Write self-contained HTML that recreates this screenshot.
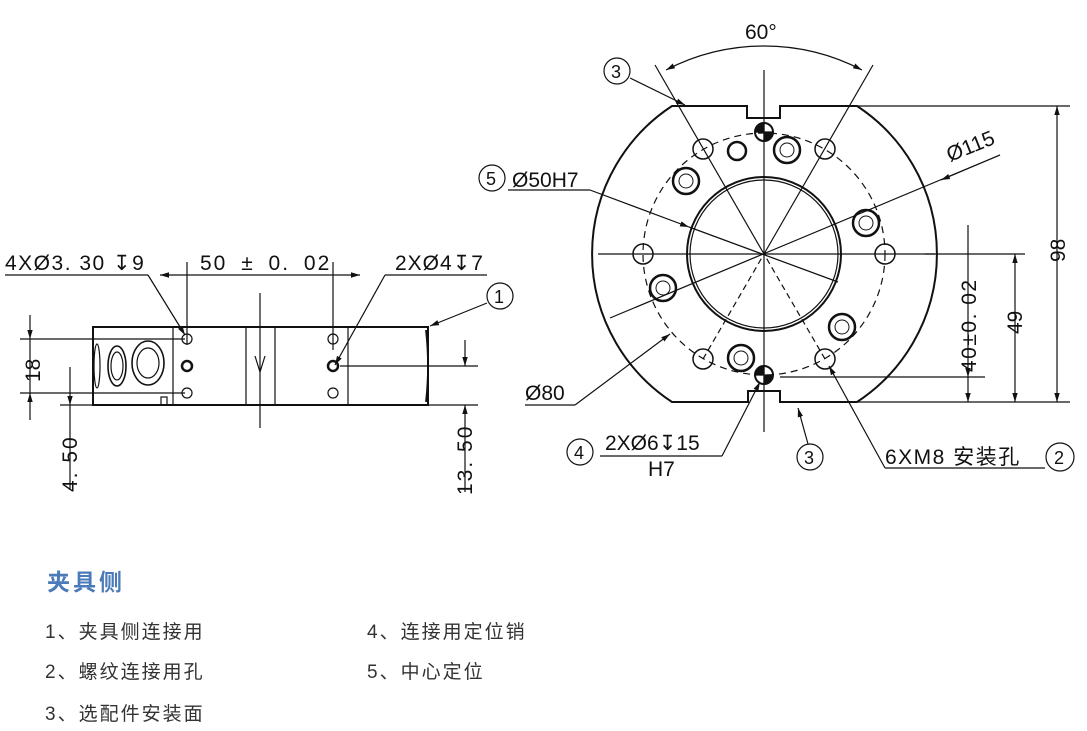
<!DOCTYPE html>
<html><head><meta charset="utf-8"><style>
html,body{margin:0;padding:0;background:#fff;width:1087px;height:731px;overflow:hidden}
svg{position:absolute;left:0;top:0}
text{font-family:"Liberation Sans","Noto Sans CJK SC",sans-serif;fill:#111}
.t{font-family:"Liberation Sans","Noto Sans CJK SC",sans-serif;position:absolute;color:#333;font-size:19px;letter-spacing:2px;white-space:nowrap}
</style></head><body>
<svg width="1087" height="731" viewBox="0 0 1087 731">
<defs>
<marker id="a" viewBox="0 0 10 10" refX="10" refY="5" markerWidth="9" markerHeight="9" orient="auto-start-reverse" markerUnits="userSpaceOnUse"><path d="M0,2 L10,5 L0,8z" fill="#111"/></marker>
</defs>
<g stroke="#111" fill="none" stroke-width="1.2">
<rect x="93" y="327" width="335" height="78" stroke-width="2"/>
<line x1="173" y1="327" x2="173" y2="405"/>
<line x1="246" y1="327" x2="246" y2="405"/>
<line x1="275" y1="327" x2="275" y2="405"/>
<line x1="348" y1="327" x2="348" y2="405"/>
<path d="M426,330 Q430,366 426,402" stroke-width="1.8"/>
<ellipse cx="97" cy="366" rx="3" ry="22"/>
<ellipse cx="117" cy="366" rx="9" ry="20" stroke-width="1.6"/><ellipse cx="117" cy="366" rx="6" ry="14"/>
<ellipse cx="148" cy="363" rx="16" ry="22" stroke-width="1.6"/><ellipse cx="148" cy="363" rx="11" ry="15"/>
<rect x="161" y="397" width="6" height="8"/>
<circle cx="187" cy="339" r="5"/><circle cx="187" cy="366" r="5" stroke-width="2.5"/><circle cx="187" cy="393" r="5"/>
<circle cx="333" cy="339" r="5"/><circle cx="333" cy="366" r="5" stroke-width="2.5"/><circle cx="333" cy="393" r="5"/>
<line x1="260" y1="293" x2="260" y2="428"/>
<path d="M255,356 L260,372 L265,356" />
<line x1="5" y1="275" x2="148" y2="275"/>
<line x1="148" y1="275" x2="185" y2="335" marker-end="url(#a)"/>
<line x1="187" y1="262" x2="187" y2="345"/>
<line x1="333" y1="262" x2="333" y2="350"/>
<line x1="160" y1="275" x2="187" y2="275" marker-start="url(#a)"/>
<line x1="333" y1="275" x2="360" y2="275" marker-end="url(#a)"/>
<line x1="187" y1="275" x2="333" y2="275"/>
<line x1="385" y1="275" x2="487" y2="275"/>
<line x1="385" y1="275" x2="335" y2="365" marker-end="url(#a)"/>
<circle cx="500" cy="296" r="13"/>
<line x1="487" y1="303" x2="430" y2="326" marker-end="url(#a)"/>
<line x1="20" y1="339" x2="185" y2="339"/>
<line x1="20" y1="393" x2="185" y2="393"/>
<line x1="30" y1="315" x2="30" y2="339" marker-end="url(#a)"/>
<line x1="30" y1="339" x2="30" y2="393"/>
<line x1="30" y1="420" x2="30" y2="393" marker-end="url(#a)"/>
<line x1="60" y1="405" x2="478" y2="405"/>
<line x1="70" y1="367" x2="70" y2="405" marker-end="url(#a)"/>
<line x1="70" y1="405" x2="70" y2="490"/>
<line x1="340" y1="366" x2="478" y2="366"/>
<line x1="465" y1="340" x2="465" y2="366" marker-end="url(#a)"/>
<line x1="465" y1="430" x2="465" y2="405" marker-end="url(#a)"/>
<line x1="465" y1="430" x2="465" y2="492"/>

<path d="M672,106 L747,106 L747,118 L780,118 L780,106 L857,106 A177,177 0 0 1 857,402 L780,402 L780,391 L748,391 L748,402 L672,402 A177,177 0 0 1 672,106 Z" stroke-width="2"/>
<circle cx="764" cy="254" r="77" stroke-width="2"/><circle cx="764" cy="254" r="74"/>
<circle cx="764" cy="254" r="121" stroke-dasharray="7,5"/>
<line x1="764" y1="70" x2="764" y2="432"/>
<line x1="598" y1="254" x2="935" y2="254"/>
<line x1="925" y1="254" x2="1025" y2="254"/>
<line x1="655" y1="65" x2="764" y2="254"/>
<line x1="873" y1="65" x2="764" y2="254"/>
<line x1="703" y1="359" x2="764" y2="254" stroke-dasharray="6,4"/>
<line x1="825" y1="359" x2="764" y2="254" stroke-dasharray="6,4"/>
<path d="M666,70 A212,212 0 0 1 862,70" marker-start="url(#a)" marker-end="url(#a)"/>
<g stroke-width="1.5">
<circle cx="643" cy="254" r="10"/><circle cx="885" cy="254" r="10"/>
<circle cx="703" cy="149" r="10"/><circle cx="825" cy="149" r="10"/>
<circle cx="703" cy="359" r="10"/><circle cx="825" cy="359" r="10"/>
</g>
<circle cx="737" cy="151" r="9" stroke-width="2.5"/>
<g stroke-width="2.5">
<circle cx="787" cy="150" r="13"/><circle cx="686" cy="181" r="13"/><circle cx="866" cy="223" r="13"/>
<circle cx="663" cy="288" r="13"/><circle cx="842" cy="327" r="13"/><circle cx="741" cy="358" r="13"/>
</g>
<g stroke-width="1">
<circle cx="787" cy="150" r="7"/><circle cx="686" cy="181" r="7"/><circle cx="866" cy="223" r="7"/>
<circle cx="663" cy="288" r="7"/><circle cx="842" cy="327" r="7"/><circle cx="741" cy="358" r="7"/>
</g>
<circle cx="764" cy="132" r="9" stroke-width="2"/>
<path d="M764,132 L764,123 A9,9 0 0 0 755,132Z M764,132 L764,141 A9,9 0 0 0 773,132Z" fill="#111"/>
<circle cx="764" cy="375" r="9" stroke-width="2"/>
<path d="M764,375 L764,366 A9,9 0 0 0 755,375Z M764,375 L764,384 A9,9 0 0 0 773,375Z" fill="#111"/>
<line x1="610" y1="318" x2="1000" y2="155"/>
<line x1="1000" y1="155" x2="941" y2="180" marker-end="url(#a)"/>
<line x1="508" y1="190" x2="590" y2="190"/>
<line x1="590" y1="190" x2="689" y2="227" marker-end="url(#a)"/>
<line x1="689" y1="227" x2="838" y2="282"/>
<circle cx="492" cy="178" r="13"/>
<line x1="525" y1="405" x2="575" y2="405"/>
<line x1="575" y1="405" x2="670" y2="334" marker-end="url(#a)"/>
<circle cx="617" cy="71" r="13"/>
<line x1="630" y1="78" x2="685" y2="105" marker-end="url(#a)"/>
<line x1="857" y1="106" x2="1070" y2="106"/>
<line x1="857" y1="402" x2="1070" y2="402"/>
<line x1="780" y1="377" x2="985" y2="377"/>
<line x1="1057" y1="106" x2="1057" y2="402" marker-start="url(#a)" marker-end="url(#a)"/>
<line x1="1015" y1="254" x2="1015" y2="402" marker-start="url(#a)" marker-end="url(#a)"/>
<line x1="968" y1="225" x2="968" y2="377" marker-end="url(#a)"/>
<line x1="968" y1="377" x2="968" y2="402" marker-end="url(#a)"/>
<circle cx="580" cy="452" r="13"/>
<line x1="600" y1="456" x2="722" y2="456"/>
<line x1="722" y1="456" x2="760" y2="382" marker-end="url(#a)"/>
<circle cx="810" cy="457" r="13"/>
<line x1="808" y1="444" x2="798" y2="408" marker-end="url(#a)"/>
<circle cx="1060" cy="457" r="14"/>
<line x1="885" y1="468" x2="1045" y2="468"/>
<line x1="885" y1="468" x2="829" y2="366" marker-end="url(#a)"/>
</g>
<g font-size="21">
<text x="5" y="270" letter-spacing="1.5">4XØ3. 30 ↧9</text>
<text x="200" y="270" letter-spacing="2" word-spacing="6">50 ± 0. 02</text>
<text x="395" y="270" letter-spacing="1">2XØ4↧7</text>
<text x="494" y="303" font-size="18">1</text>
<text x="0" y="0" transform="translate(40,382) rotate(-90)">18</text>
<text x="0" y="0" transform="translate(77,492) rotate(-90)" letter-spacing="2">4. 50</text>
<text x="0" y="0" transform="translate(472,495) rotate(-90)" letter-spacing="2">13. 50</text>
<text x="745" y="39">60°</text>
<text x="611" y="78" font-size="18">3</text>
<text x="486" y="185" font-size="18">5</text>
<text x="512" y="187">Ø50H7</text>
<text x="0" y="0" transform="translate(950,162) rotate(-22)">Ø115</text>
<text x="525" y="400">Ø80</text>
<text x="0" y="0" transform="translate(976,372) rotate(-90)" letter-spacing="1.5">40±0. 02</text>
<text x="0" y="0" transform="translate(1022,334) rotate(-90)">49</text>
<text x="0" y="0" transform="translate(1065,262) rotate(-90)">98</text>
<text x="574" y="459" font-size="18">4</text>
<text x="605" y="450">2XØ6↧15</text>
<text x="648" y="476">H7</text>
<text x="804" y="464" font-size="18">3</text>
<text x="885" y="464" letter-spacing="1.5">6XM8 安装孔</text>
<text x="1054" y="464" font-size="18">2</text>
</g>
</svg>
<div class="t" style="left:47px;top:563px;font-size:23px;color:#4a7ab8;font-weight:bold;letter-spacing:3px">夹具侧</div>
<div class="t" style="left:45px;top:617px">1、夹具侧连接用</div>
<div class="t" style="left:45px;top:657px">2、螺纹连接用孔</div>
<div class="t" style="left:45px;top:699px">3、选配件安装面</div>
<div class="t" style="left:367px;top:617px">4、连接用定位销</div>
<div class="t" style="left:367px;top:657px">5、中心定位</div>
</body></html>
